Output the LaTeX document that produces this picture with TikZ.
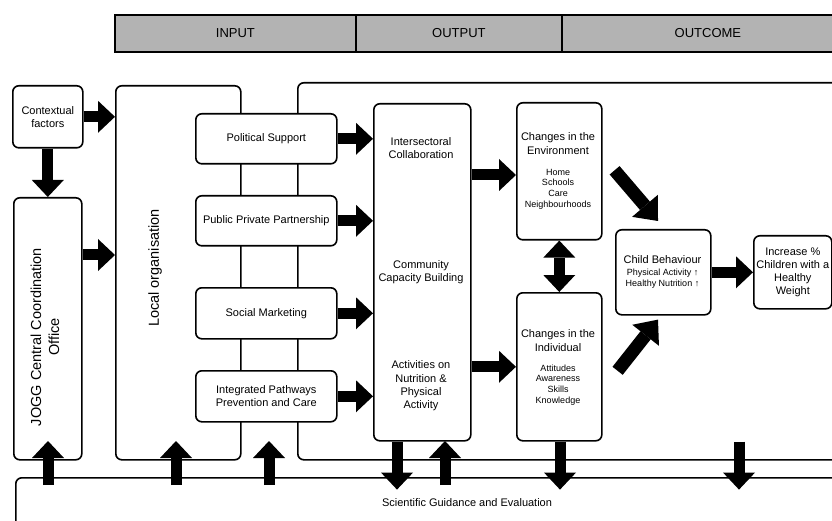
\documentclass[tikz,border=0pt]{standalone}
\usepackage{fontspec}
\setmainfont{Liberation Sans}
\usetikzlibrary{arrows.meta, positioning, calc}
\definecolor{hgrey}{HTML}{B3B3B3}
\tikzset{
  box/.style={draw, fill=white, rounded corners=6pt, align=center, inner sep=2pt,
    font=\fontsize{11}{13}\selectfont, anchor=north west},
  head/.style={draw, fill=hgrey, anchor=north west, minimum height=37pt,
    font=\fontsize{13}{15}\selectfont, line width=1.8pt},
  txt/.style={align=center, font=\fontsize{11}{13.3}\selectfont},
  small/.style={align=center, font=\fontsize{9}{10.7}\selectfont},
  big/.style={align=center, font=\fontsize{14.5}{18}\selectfont, rotate=90},
  blk/.style={line width=11pt, -{Triangle[length=17pt, width=32pt, line width=0pt]}},
  dblk/.style={line width=11pt, {Triangle[length=17pt, width=32pt, line width=0pt]}-{Triangle[length=17pt, width=32pt, line width=0pt]}},
  diag/.style={line width=13pt, -{Triangle[length=20pt, width=34pt, line width=0pt]}},
}

\begin{document}
\begin{tikzpicture}[x=1pt, y=-1pt, line width=1.6pt]
  \useasboundingbox (0,0) rectangle (832,521);
  \clip (0,0) rectangle (832,521);
  % header bar
  \node[head, minimum width=241pt] (hin) at (114,14) {INPUT};
  \node[head, minimum width=206pt] (hout) at (355,14) {OUTPUT};
  \node[head, minimum width=292pt] (hoc) at (561,14) {OUTCOME};
  % frames behind the boxes
  \node[box, minimum width=850pt, minimum height=80pt] (sci) at (15,477) {};
  \node[txt] (scit) at (467,503) {Scientific Guidance and Evaluation};
  \node[box, minimum width=560pt, minimum height=377pt] (frame) at (297,82) {};
  \node[box, minimum width=125pt, minimum height=374pt] (local) at (115,85) {};
  \node[big] (localt) at (155,268) {Local organisation};
  \node[box, minimum width=70pt, minimum height=62pt] (ctx) at (12,85) {Contextual\\factors};
  \node[box, minimum width=68pt, minimum height=262pt] (jogg) at (13,197) {};
  \node[big] (joggt) at (45,337) {JOGG Central Coordination\\Office};
  % input
  \node[box, minimum width=141pt, minimum height=50pt] (pol) at (195,113) {Political Support};
  \node[box, minimum width=141pt, minimum height=50pt] (pps) at (195,195) {Public Private Partnership};
  \node[box, minimum width=141pt, minimum height=51pt] (soc) at (195,287) {Social Marketing};
  \node[box, minimum width=141pt, minimum height=51pt] (ipc) at (195,370) {Integrated Pathways\\Prevention and Care};
  % output
  \node[box, minimum width=97pt, minimum height=337pt] (out) at (373,103) {};
  \node[txt] (outa) at (421,148) {Intersectoral\\Collaboration};
  \node[txt] (outb) at (421,272) {Community\\Capacity Building};
  \node[txt] (outc) at (421,386) {Activities on\\Nutrition \&\\Physical\\Activity};
  % outcome
  \node[box, minimum width=85pt, minimum height=137pt] (env) at (516,102) {};
  \node[txt] (envt) at (558,143.5) {Changes in the\\Environment};
  \node[small] (envl) at (558,189) {Home\\Schools\\Care\\Neighbourhoods};
  \node[box, minimum width=85pt, minimum height=148pt] (ind) at (516,292) {};
  \node[txt] (indt) at (558,340.5) {Changes in the\\Individual};
  \node[small] (indl) at (558,385) {Attitudes\\Awareness\\Skills\\Knowledge};
  \node[box, minimum width=95pt, minimum height=85pt] (child) at (615,229) {};
  \node[txt] (childt) at (662.5,260) {Child Behaviour};
  \node[small] (childl) at (662.5,278.5) {Physical Activity ↑\\Healthy Nutrition ↑};
  \node[box, minimum width=78pt, minimum height=73pt] (inc) at (753,235) {Increase \%\\Children with a\\Healthy\\Weight};
  % block arrows
  \draw[blk] (ctx.east) -- (ctx.east -| local.west);
  \draw[blk] (ctx.south) -- (jogg.north);
  \draw[blk] (jogg.east |- 0,255) -- (local.west |- 0,255);
  \foreach \b in {pol, pps, soc, ipc}
    \draw[blk] (\b.east) -- (\b.east -| out.west);
  \draw[blk] (out.east |- 0,175) -- (env.west |- 0,175);
  \draw[blk] (out.east |- ind.west) -- (ind.west);
  \draw[dblk] (env.south) -- (ind.north);
  \draw[diag] ($(env.east)+(12,-1)$) -- ($(child.north west)+(43,-8)$);
  \draw[diag] ($(ind.east)+(15,4)$) -- ($(child.south west)+(43,4)$);
  \draw[blk] (child.east) -- (inc.west);
  \foreach \x in {48, 176, 269, 445}
    \draw[blk] (\x,0 |- sci.north) ++(0,8) -- ++(0,-44);
  \foreach \x in {397, 560, 739}
    \draw[blk] (\x,0 |- out.south) -- ++(0,48);
\end{tikzpicture}
\end{document}
